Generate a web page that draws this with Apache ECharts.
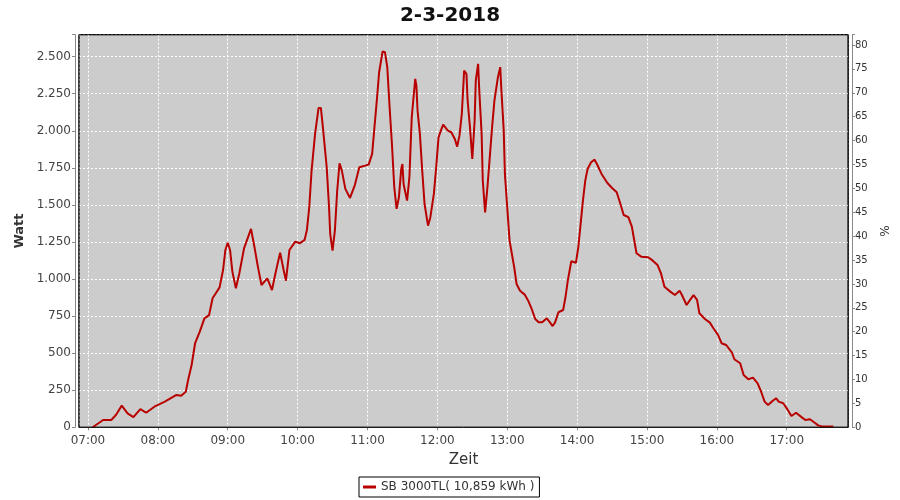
<!DOCTYPE html>
<html><head><meta charset="utf-8">
<script src="https://cdn.jsdelivr.net/npm/echarts@6/dist/echarts.min.js"></script>
<style>html,body{margin:0;padding:0;background:#fff}#c{width:900px;height:500px}</style>
</head><body><div id="c"></div>
<script>
const chartTitle = '2-3-2018';
const seriesName = 'SB 3000TL( 10,859 kWh )';
const times = ['07:04','07:09','07:13','07:20','07:24','07:29','07:34','07:39','07:45','07:50','07:57','08:06','08:16','08:20','08:24','08:26','08:29','08:32','08:36','08:40','08:44','08:47','08:53','08:56','08:58','09:00','09:02','09:04','09:07','09:10','09:14','09:20','09:23','09:26','09:29','09:34','09:38','09:41','09:45','09:48','09:50','09:53','09:58','10:02','10:06','10:08','10:10','10:12','10:15','10:18','10:20','10:22','10:25','10:27','10:28','10:30','10:32','10:34','10:36','10:38','10:41','10:45','10:49','10:53','10:58','11:01','11:04','11:06','11:08','11:10','11:13','11:15','11:17','11:19','11:21','11:23','11:25','11:27','11:29','11:30','11:31','11:34','11:36','11:38','11:41','11:42','11:43','11:45','11:47','11:49','11:52','11:54','11:57','11:59','12:01','12:03','12:05','12:09','12:12','12:15','12:17','12:19','12:21','12:23','12:25','12:26','12:28','12:30','12:32','12:33','12:35','12:36','12:38','12:39','12:41','12:43','12:45','12:47','12:49','12:52','12:54','12:55','12:57','12:58','13:00','13:02','13:04','13:06','13:08','13:11','13:15','13:18','13:21','13:24','13:27','13:30','13:34','13:36','13:39','13:41','13:44','13:48','13:50','13:52','13:55','13:59','14:01','14:03','14:05','14:07','14:09','14:12','14:15','14:17','14:21','14:26','14:30','14:34','14:37','14:40','14:44','14:47','14:49','14:51','14:55','15:01','15:05','15:09','15:12','15:15','15:20','15:24','15:28','15:30','15:34','15:37','15:40','15:43','15:45','15:50','15:54','15:57','16:01','16:04','16:08','16:13','16:15','16:20','16:23','16:27','16:31','16:35','16:38','16:41','16:44','16:48','16:51','16:53','16:57','17:00','17:04','17:08','17:13','17:16','17:20','17:24','17:27','17:30','17:40'];
const watts = [0,27,49,49,83,146,94,69,123,98,139,173,218,213,240,319,420,567,645,735,757,870,944,1061,1196,1245,1196,1050,938,1039,1207,1338,1214,1079,960,1005,926,1039,1178,1061,989,1196,1252,1241,1264,1331,1484,1731,1979,2154,2154,2001,1754,1484,1304,1191,1326,1596,1781,1731,1608,1547,1630,1754,1765,1772,1844,2024,2203,2395,2535,2530,2429,2159,1911,1619,1473,1552,1743,1776,1641,1529,1687,2091,2350,2304,2136,1979,1731,1506,1360,1417,1574,1754,1956,2001,2041,2001,1990,1945,1893,1967,2114,2406,2383,2203,2024,1810,2068,2338,2451,2271,1979,1664,1450,1619,1821,2024,2203,2361,2429,2271,2001,1709,1484,1259,1169,1079,967,921,895,854,798,731,708,708,735,715,683,706,776,791,877,989,1120,1110,1214,1371,1529,1664,1742,1788,1805,1776,1709,1648,1614,1585,1511,1432,1417,1353,1263,1174,1151,1147,1124,1095,1039,948,915,892,921,892,825,859,892,859,769,729,706,668,623,567,555,503,459,432,353,324,335,297,240,173,150,179,196,173,162,128,76,98,67,49,54,31,13,6,6];
const xMinTime = '06:52:18';
const xMaxTime = '17:52:36';
const wattMax = 2648, wattStep = 250;
const pctMax = 82.15, pctStep = 5;

function ts(s) {
  const p = s.split(':').map(Number);
  return new Date(2018, 2, 2, p[0], p[1], p[2] || 0).getTime();
}
function pad(n) { return (n < 10 ? '0' : '') + n; }
function deNum(v) { return String(v).replace(/\B(?=(\d{3})+(?!\d))/g, '.'); }

const G = { left: 79, right: 51.7, top: 34.7, bottom: 72.7 };
const data = times.map((t, i) => [ts(t), watts[i]]);
const chart = echarts.init(document.getElementById('c'));
const font = 'DejaVu Sans';
chart.setOption({
  animation: false,
  textStyle: { fontFamily: font },
  title: {
    text: chartTitle, left: 'center', top: 1,
    textStyle: { fontFamily: font, fontSize: 20, fontWeight: 'bold', color: '#111' }
  },
  legend: {
    left: 359, top: 477, padding: [4, 5, 4, 4],
    borderColor: '#000', borderWidth: 1, backgroundColor: '#fff',
    itemWidth: 13, itemHeight: 3, icon: 'rect',
    textStyle: { fontFamily: font, fontSize: 12, color: '#333' },
    data: [seriesName]
  },
  grid: {
    left: G.left, right: G.right, top: G.top, bottom: G.bottom,
    show: true, backgroundColor: '#cccccc', borderColor: '#000', borderWidth: 1
  },
  graphic: [{
    type: 'rect', z: 100, silent: true,
    shape: { x: G.left, y: G.top, width: 900 - G.left - G.right, height: 500 - G.top - G.bottom },
    style: { fill: 'none', stroke: '#000', lineWidth: 1 }
  }],
  xAxis: {
    type: 'time', min: ts(xMinTime), max: ts(xMaxTime),
    minInterval: 3600000, maxInterval: 3600000,
    offset: 5,
    name: 'Zeit', nameLocation: 'middle', nameGap: 20,
    nameTextStyle: { fontFamily: font, fontSize: 15, color: '#333' },
    axisLine: { show: true, lineStyle: { color: '#888', width: 1 } },
    axisTick: { show: true, length: 3, lineStyle: { color: '#888' } },
    axisLabel: {
      fontSize: 12, color: '#444', margin: 3, hideOverlap: false,
      formatter: function (v) {
        const d = new Date(v);
        if (d.getMinutes() !== 0 || d.getSeconds() !== 0) return '';
        return pad(d.getHours()) + ':00';
      }
    },
    splitLine: { show: true, lineStyle: { color: '#fff', type: [2, 2], width: 1 } }
  },
  yAxis: [{
    type: 'value', min: 0, max: wattMax, interval: wattStep,
    offset: 4, position: 'left',
    name: 'Watt', nameLocation: 'middle', nameGap: 48,
    nameTextStyle: { fontFamily: font, fontSize: 13, fontWeight: 'bold', color: '#333' },
    axisLine: { show: true, lineStyle: { color: '#888', width: 1 } },
    axisTick: { show: true, length: 3, lineStyle: { color: '#888' } },
    axisLabel: {
      fontSize: 12, color: '#444', margin: 4,
      formatter: v => (v % wattStep === 0 ? deNum(v) : '')
    },
    splitLine: { show: true, lineStyle: { color: '#fff', type: [2, 2], width: 1 } }
  }, {
    type: 'value', min: 0, max: pctMax, interval: pctStep,
    offset: 4, position: 'right',
    name: '%', nameLocation: 'middle', nameGap: 28,
    nameTextStyle: { fontFamily: font, fontSize: 12, color: '#333' },
    axisLine: { show: true, lineStyle: { color: '#888', width: 1 } },
    axisTick: { show: true, length: 3, lineStyle: { color: '#888' } },
    axisLabel: {
      fontSize: 10, color: '#333', margin: 3,
      formatter: v => (v % pctStep === 0 ? String(v) : '')
    },
    splitLine: { show: false }
  }],
  series: [{
    name: seriesName, type: 'line', yAxisIndex: 0,
    data: data, showSymbol: false, symbol: 'none',
    itemStyle: { color: '#b80000' },
    lineStyle: { color: '#b80000', width: 2 }
  }]
});
</script>
</body></html>
